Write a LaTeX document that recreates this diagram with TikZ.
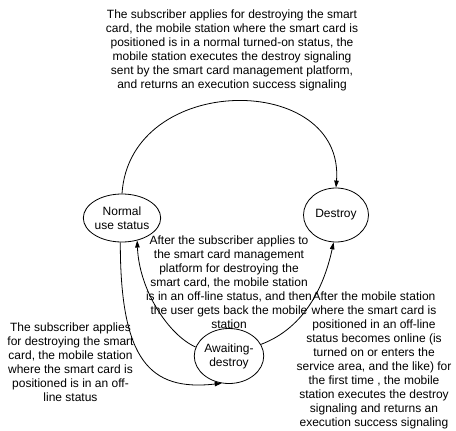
\documentclass[tikz,border=0pt]{standalone}
\usepackage{fontspec}
\setmainfont{Liberation Sans}
\usetikzlibrary{arrows.meta,shapes.geometric}
\begin{document}
\begin{tikzpicture}[x=1pt,y=-1pt,
  state/.style={draw,ellipse,line width=0.8pt,inner sep=0pt,align=center,
    font=\fontsize{12}{14}\selectfont},
  note/.style={align=center,inner sep=0pt,font=\fontsize{12}{14}\selectfont},
  flow/.style={line width=0.8pt,-{Triangle[length=7pt,width=4.5pt]}}]
\path[use as bounding box] (0,0) rectangle (456,431);

% states
\node[state,minimum width=64pt,minimum height=48pt] (normal) at (122,218) {Normal\\use status};
\node[state,minimum width=65pt,minimum height=54pt] (destroy) at (336,215) {Destroy};
\node[state,minimum width=62pt,minimum height=55pt] (await) at (229,356) {Awaiting-\\destroy};

% transition labels
\node[note] (ltop) at (232,50.5) {The subscriber applies for destroying the smart\\
card, the mobile station where the smart card is\\
positioned is in a normal turned-on status, the\\
mobile station executes the destroy signaling\\
sent by the smart card management platform,\\
and returns an execution success signaling};
\node[note] (lmid) at (229,282) {After the subscriber applies to\\
the smart card management\\
platform for destroying the\\
smart card, the mobile station\\
is in an off-line status, and then\\
the user gets back the mobile\\
station};
\node[note] (lleft) at (70.5,362) {The subscriber applies\\
for destroying the smart\\
card, the mobile station\\
where the smart card is\\
positioned is in an off-\\
line status};
\node[note] (lright) at (374,360) {After the mobile station\\
where the smart card is\\
positioned in an off-line\\
status becomes online (is\\
turned on or enters the\\
service area, and the like) for\\
the first time , the mobile\\
station executes the destroy\\
signaling and returns an\\
execution success signaling};

% transitions
\draw[flow] (normal.north) .. controls +(8,-122) and +(9,-116) .. (destroy.north);
\draw[flow] (normal.266) .. controls +(0,118) and +(-72,8) .. (await.255);
\draw[flow] (await.165) .. controls +(-27,-12) and +(2,50) .. (normal.304);
\draw[flow] (await.20) .. controls +(45,-17) and +(-9,42) .. (destroy.265);
\end{tikzpicture}
\end{document}
